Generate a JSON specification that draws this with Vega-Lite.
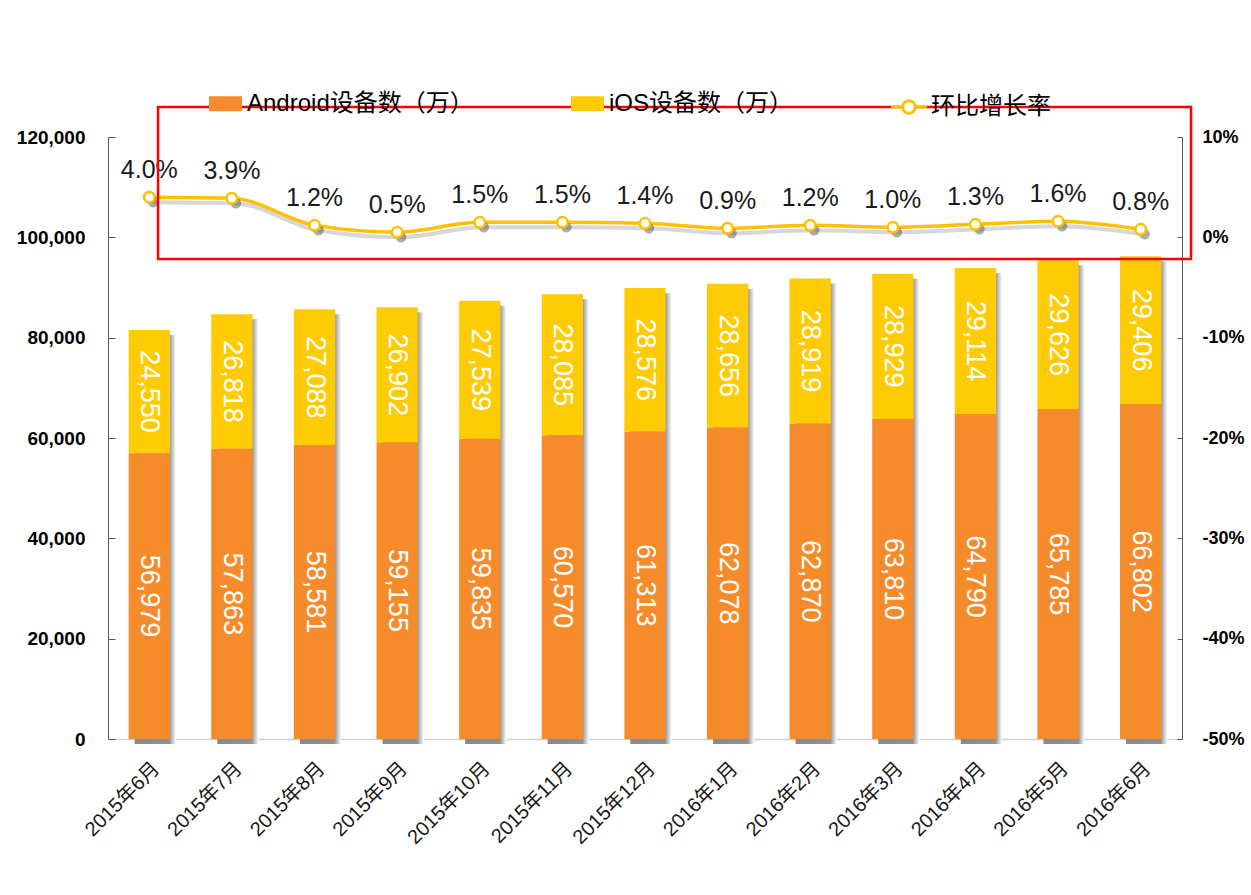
{
  "$schema": "https://vega.github.io/schema/vega-lite/v6.json",
  "width": 1074,
  "height": 602,
  "autosize": {"type": "none"},
  "padding": {"left": 108, "top": 137, "right": 69, "bottom": 156},
  "background": "white",
  "config": {
    "font": "Liberation Sans, Noto Sans CJK SC",
    "view": {"stroke": null},
    "locale": {"number": {"decimal": ".", "thousands": ",", "grouping": [3], "currency": ["$", ""], "minus": "-"}}
  },
  "datasets": {
    "bars": [
      {"month": "2015年6月", "series": "Android设备数（万）", "value": 56979},
      {"month": "2015年6月", "series": "iOS设备数（万）", "value": 24550},
      {"month": "2015年7月", "series": "Android设备数（万）", "value": 57863},
      {"month": "2015年7月", "series": "iOS设备数（万）", "value": 26818},
      {"month": "2015年8月", "series": "Android设备数（万）", "value": 58581},
      {"month": "2015年8月", "series": "iOS设备数（万）", "value": 27088},
      {"month": "2015年9月", "series": "Android设备数（万）", "value": 59155},
      {"month": "2015年9月", "series": "iOS设备数（万）", "value": 26902},
      {"month": "2015年10月", "series": "Android设备数（万）", "value": 59835},
      {"month": "2015年10月", "series": "iOS设备数（万）", "value": 27539},
      {"month": "2015年11月", "series": "Android设备数（万）", "value": 60570},
      {"month": "2015年11月", "series": "iOS设备数（万）", "value": 28085},
      {"month": "2015年12月", "series": "Android设备数（万）", "value": 61313},
      {"month": "2015年12月", "series": "iOS设备数（万）", "value": 28576},
      {"month": "2016年1月", "series": "Android设备数（万）", "value": 62078},
      {"month": "2016年1月", "series": "iOS设备数（万）", "value": 28656},
      {"month": "2016年2月", "series": "Android设备数（万）", "value": 62870},
      {"month": "2016年2月", "series": "iOS设备数（万）", "value": 28919},
      {"month": "2016年3月", "series": "Android设备数（万）", "value": 63810},
      {"month": "2016年3月", "series": "iOS设备数（万）", "value": 28929},
      {"month": "2016年4月", "series": "Android设备数（万）", "value": 64790},
      {"month": "2016年4月", "series": "iOS设备数（万）", "value": 29114},
      {"month": "2016年5月", "series": "Android设备数（万）", "value": 65785},
      {"month": "2016年5月", "series": "iOS设备数（万）", "value": 29626},
      {"month": "2016年6月", "series": "Android设备数（万）", "value": 66802},
      {"month": "2016年6月", "series": "iOS设备数（万）", "value": 29406}
    ],
    "growth": [
      {"month": "2015年6月", "rate": 0.040},
      {"month": "2015年7月", "rate": 0.039},
      {"month": "2015年8月", "rate": 0.012},
      {"month": "2015年9月", "rate": 0.005},
      {"month": "2015年10月", "rate": 0.015},
      {"month": "2015年11月", "rate": 0.015},
      {"month": "2015年12月", "rate": 0.014},
      {"month": "2016年1月", "rate": 0.009},
      {"month": "2016年2月", "rate": 0.012},
      {"month": "2016年3月", "rate": 0.010},
      {"month": "2016年4月", "rate": 0.013},
      {"month": "2016年5月", "rate": 0.016},
      {"month": "2016年6月", "rate": 0.008}
    ]
  },
  "layer": [
    {
      "data": {"name": "bars"},
      "encoding": {
        "x": {"field": "month", "type": "nominal", "sort": ["2015年6月","2015年7月","2015年8月","2015年9月","2015年10月","2015年11月","2015年12月","2016年1月","2016年2月","2016年3月","2016年4月","2016年5月","2016年6月"], "scale": {"paddingInner": 0.5, "paddingOuter": 0.25}, "title": null,
          "axis": {"labelAngle": -45, "labelFontSize": 20, "labelColor": "#1a1a1a", "labelPadding": 19, "ticks": false, "domainColor": "#d0d0d0", "domainWidth": 1.5}}
      },
      "layer": [
        {
          "transform": [{"aggregate": [{"op": "sum", "field": "value", "as": "total"}], "groupby": ["month"]}],
          "mark": {"type": "bar", "xOffset": 6, "yOffset": 5, "y2Offset": -5, "fill": {"gradient": "linear", "x1": 0, "x2": 1, "y1": 0, "y2": 0, "stops": [{"offset": 0, "color": "#8a8a8a"}, {"offset": 0.84, "color": "#909090"}, {"offset": 1, "color": "#ffffff"}]}},
          "encoding": {
            "y": {"field": "total", "type": "quantitative", "scale": {"domain": [0, 120000]}, "title": null,
              "axis": {"values": [0, 20000, 40000, 60000, 80000, 100000, 120000], "labelExpr": "format(datum.value, ',')", "labelFontSize": 19, "labelFontWeight": "bold", "labelColor": "#000000", "domainColor": "#595959", "tickColor": "#595959", "tickSize": -7, "labelPadding": 30, "grid": false}}
          }
        },
        {
          "mark": {"type": "bar"},
          "encoding": {
            "y": {"field": "value", "type": "quantitative", "stack": "zero", "scale": {"domain": [0, 120000]}, "title": null,
              "axis": {"values": [0, 20000, 40000, 60000, 80000, 100000, 120000], "labelExpr": "format(datum.value, ',')", "labelFontSize": 19, "labelFontWeight": "bold", "labelColor": "#000000", "domainColor": "#595959", "tickColor": "#595959", "tickSize": -7, "labelPadding": 30, "grid": false}},
            "order": {"field": "series", "type": "nominal", "sort": "ascending"},
            "fill": {"field": "series", "type": "nominal", "scale": {"domain": ["Android设备数（万）", "iOS设备数（万）"], "range": ["#F68B2C", "#FFCB05"]},
              "legend": {"title": null, "orient": "none", "legendX": 101, "legendY": -50, "direction": "horizontal", "symbolType": "M-1,-0.45H1V0.45H-1Z", "symbolSize": 1089, "symbolStrokeWidth": 0, "labelFontSize": 24, "labelColor": "#000000", "labelOffset": 5, "columnPadding": 97, "labelLimit": 400}}
          }
        },
        {
          "transform": [
            {"stack": "value", "groupby": ["month"], "sort": [{"field": "series", "order": "ascending"}], "as": ["v0", "v1"]},
            {"fold": ["v0", "v1"], "as": ["k", "pos"]},
            {"aggregate": [{"op": "mean", "field": "pos", "as": "mid"}, {"op": "max", "field": "value", "as": "val"}], "groupby": ["month", "series"]}
          ],
          "mark": {"type": "text", "angle": 90, "fill": "#ffffff", "fontSize": 27, "align": "center", "baseline": "middle"},
          "encoding": {
            "y": {"field": "mid", "type": "quantitative", "scale": {"domain": [0, 120000]}, "title": null,
              "axis": {"values": [0, 20000, 40000, 60000, 80000, 100000, 120000], "labelExpr": "format(datum.value, ',')", "labelFontSize": 19, "labelFontWeight": "bold", "labelColor": "#000000", "domainColor": "#595959", "tickColor": "#595959", "tickSize": -7, "labelPadding": 30, "grid": false}},
            "text": {"field": "val", "type": "quantitative", "format": ","}
          }
        }
      ]
    },
    {
      "data": {"name": "growth"},
      "encoding": {
        "x": {"field": "month", "type": "nominal", "sort": ["2015年6月","2015年7月","2015年8月","2015年9月","2015年10月","2015年11月","2015年12月","2016年1月","2016年2月","2016年3月","2016年4月","2016年5月","2016年6月"], "scale": {"paddingInner": 0.5, "paddingOuter": 0.25}, "axis": null},
        "y": {"field": "rate", "type": "quantitative", "scale": {"domain": [-0.5, 0.1]}, "title": null,
          "axis": {"orient": "right", "values": [-0.5, -0.4, -0.3, -0.2, -0.1, 0, 0.1], "format": ".0%", "labelFontSize": 18, "labelFontWeight": "bold", "labelColor": "#000000", "domainColor": "#595959", "tickColor": "#595959", "tickSize": -5, "labelPadding": 25, "grid": false}}
      },
      "layer": [
        {"mark": {"type": "line", "interpolate": "monotone", "stroke": "#9a9a9a", "strokeWidth": 4, "opacity": 0.4, "xOffset": 3, "yOffset": 5}},
        {"mark": {"type": "line", "interpolate": "monotone", "strokeWidth": 3.5},
          "encoding": {"stroke": {"datum": "环比增长率", "scale": {"range": ["#FFC000"]},
            "legend": {"title": null, "orient": "none", "legendX": 781, "legendY": -50, "symbolType": "M-1,0H-0.35M0.35,0H1M-0.35,0A0.35,0.35,0,1,1,0.35,0A0.35,0.35,0,1,1,-0.35,0Z", "symbolSize": 1300, "symbolStrokeWidth": 3, "symbolFillColor": "#ffffff", "symbolStrokeColor": "#FFC000", "labelFontSize": 24, "labelColor": "#000000", "labelOffset": 2}}}},
        {"mark": {"type": "circle", "color": "#333333", "opacity": 0.4, "size": 110, "xOffset": 4, "yOffset": 5}},
        {"mark": {"type": "point", "filled": true, "fill": "#ffffff", "stroke": "#FFC000", "strokeWidth": 2.5, "size": 110, "opacity": 1}},
        {"mark": {"type": "text", "fontSize": 25, "dy": -27, "color": "#1a1a1a", "align": "center", "baseline": "middle"},
          "encoding": {"text": {"field": "rate", "type": "quantitative", "format": ".1%"}}}
      ]
    },
    {
      "data": {"values": [{}]},
      "mark": {"type": "rect", "fill": "transparent", "stroke": "#FF0000", "strokeWidth": 2.5},
      "encoding": {
        "x": {"datum": 0.0466, "type": "quantitative", "scale": {"domain": [0, 1]}, "axis": null},
        "x2": {"datum": 1.0084},
        "y": {"datum": -0.0216, "type": "quantitative", "scale": {"domain": [-0.5, 0.1]}, "axis": null},
        "y2": {"datum": 0.1299}
      }
    }
  ],
  "resolve": {"scale": {"x": "independent", "y": "independent"}}
}
